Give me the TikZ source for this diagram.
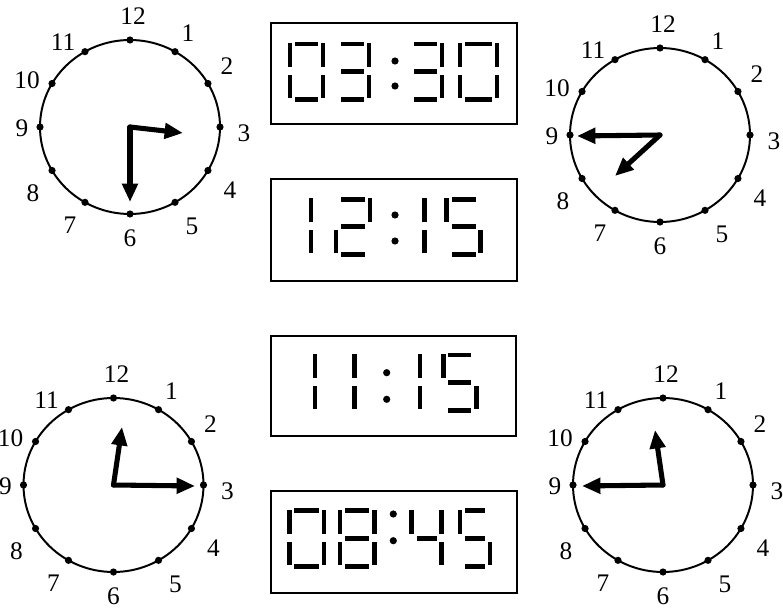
\documentclass[tikz,border=0pt]{standalone}
\usepackage{fontspec}
\setmainfont{Liberation Serif}
\usepackage{tikz}
\usetikzlibrary{
    arrows.meta
}
\tikzset{
  dial/.style    = {line width=1.4pt},
  tick/.style    = {fill=black},
  hour/.style    = {inner sep=0pt, font=\fontsize{18}{20}\selectfont},
  hand/.style    = {-{Triangle[length=0.46cm, width=0.38cm]},
                    line width=3.6pt, line cap=round},
  display/.style = {line width=1.7pt},
  seg/.style     = {line width=3.5pt}
}
% seven-segment digit: x, y of top left, width, lit segments
\newcommand{\segdigit}[4]{%
  \begin{scope}[shift={(#1,#2)}]
    \foreach \s in {#4} {
      \if a\s \draw[seg] (5,0) -- (#3-5,0); \fi
      \if b\s \draw[seg] (#3,1) -- (#3,-23); \fi
      \if c\s \draw[seg] (#3,-31) -- (#3,-54); \fi
      \if d\s \draw[seg] (5,-55.5) -- (#3-5,-55.5); \fi
      \if e\s \draw[seg] (0,-31) -- (0,-54); \fi
      \if f\s \draw[seg] (0,1) -- (0,-23); \fi
      \if g\s \draw[seg] (5,-27.5) -- (#3-5,-27.5); \fi
    }
  \end{scope}}
\newcommand{\segcolon}[3]{%
  \fill (#1,#2) circle[radius=3.6];
  \fill (#1,#3) circle[radius=3.6];}
% clock face: name, centre x, centre y
\newcommand{\clockface}[3]{%
  \coordinate (#1) at (#2,#3);
  \draw[dial] (#1) ellipse [x radius=90, y radius=87];
  \foreach \h in {1,...,12}
    \fill[tick] (#1) ++({90*cos(90-30*\h)},{87*sin(90-30*\h)}) circle[radius=3.6];
  \foreach \h/\dx/\dy in {12/3/111, 1/58/94, 2/97/61, 3/114/-6, 4/100/-63,
      5/62/-99, 6/0/-111, 7/-60/-98, 8/-97/-66, 9/-108/-1, 10/-103/47, 11/-67/85}
    \path (#1) ++(\dx,\dy) node[hour] (#1-\h) {\h};}

\begin{document}
\begin{tikzpicture}[x=0.025cm, y=0.025cm]
  \useasboundingbox (0,0) rectangle (783,608);
  % clocks
  \clockface{c1}{130}{481}
  \clockface{c2}{660}{473}
  \clockface{c3}{113.5}{123}
  \clockface{c4}{663}{123}
  % hands
  \coordinate (c1m) at (130,406);
  \coordinate (c1h) at (183,475);
  \coordinate (c2m) at (577,472);
  \coordinate (c2h) at (615,432);
  \coordinate (c3m) at (195,122);
  \coordinate (c3h) at (122,181);
  \coordinate (c4m) at (582,122);
  \coordinate (c4h) at (655,178);
  \draw[hand] (c1) -- (c1m);
  \draw[hand] (c1) -- (c1h);
  \draw[hand] (c2) -- (c2m);
  \draw[hand] (c2) -- (c2h);
  \draw[hand] (c3) -- (c3m);
  \draw[hand] (c3) -- (c3h);
  \draw[hand] (c4) -- (c4m);
  \draw[hand] (c4) -- (c4h);
  % displays
  \draw[display] (271,484) rectangle (517,585);
  \segdigit{290}{564}{33}{a,b,c,d,e,f}
  \segdigit{336}{564}{33}{a,b,c,d,g}
  \segcolon{395}{547}{522}
  \segdigit{409}{564}{33}{a,b,c,d,g}
  \segdigit{460}{564}{37}{a,b,c,d,e,f}

  \draw[display] (271,327) rectangle (517,429);
  \segdigit{277}{408.7}{34}{b,c}
  \segdigit{336}{408.7}{34}{a,b,g,e,d}
  \segcolon{395}{393}{367}
  \segdigit{390.3}{408.7}{34}{b,c}
  \segdigit{446.7}{408.7}{34}{a,f,g,c,d}

  \draw[display] (271,172) rectangle (516,272);
  \segdigit{281}{253}{34}{b,c}
  \segdigit{320.3}{253}{34}{b,c}
  \segcolon{386.7}{235.3}{208.7}
  \segdigit{386}{253}{34}{b,c}
  \segdigit{443.3}{253}{33}{a,f,g,c,d}

  \draw[display] (271,15) rectangle (517,117);
  \segdigit{289.3}{97.3}{34.7}{a,b,c,d,e,f}
  \segdigit{340}{97.3}{34.3}{a,b,c,d,e,f,g}
  \segcolon{393.3}{94}{67.3}
  \segdigit{411.7}{97.3}{30}{f,g,b,c}
  \segdigit{460}{97.3}{30}{a,f,g,c,d}
\end{tikzpicture}
\end{document}
